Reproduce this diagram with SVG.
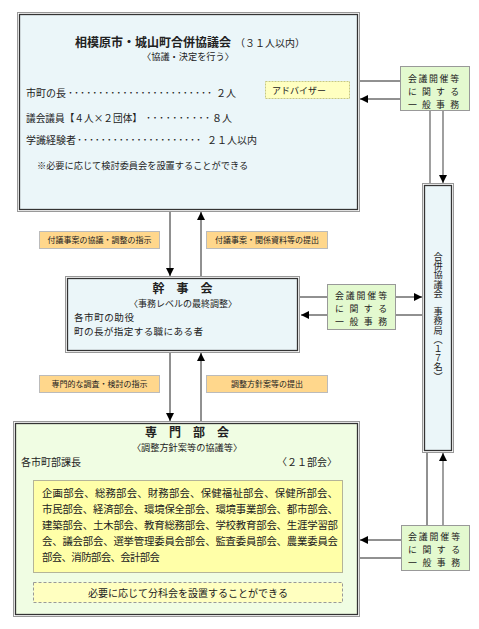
<svg xmlns="http://www.w3.org/2000/svg" width="479" height="629" viewBox="0 0 479 629">
<defs>
<marker id="ah" markerUnits="userSpaceOnUse" markerWidth="9" markerHeight="9" refX="8" refY="4" orient="auto">
<path d="M0,0 L8,4 L0,8 Z" fill="#000"/>
</marker>
<style>
text{font-family:"Noto Sans CJK JP","Noto Sans",sans-serif;fill:#222;}
.outer{fill:none;stroke:#999;stroke-width:1;}
.inner{stroke:#333;stroke-width:1.3;}
.blue{fill:#ebf6f9;}
.green{fill:#e3f9cf;stroke:#999;stroke-width:1;}
.orange{fill:#ffd78c;stroke:#bbb;stroke-width:1;}
.lbl{font-size:8px;text-anchor:middle;}
.gtx{font-size:8.9px;}
.body{font-size:10px;}
.ttl{font-size:12px;font-weight:bold;text-anchor:middle;}
.sub{font-size:9.2px;text-anchor:middle;}
.ln{stroke:#222;stroke-width:1;fill:none;}
.lg{stroke:#888;stroke-width:1.6;fill:none;}
.vt{font-size:9.2px;writing-mode:vertical-rl;}
</style>
</defs>

<g id="connectors">
<line class="ln" x1="170" y1="212" x2="170" y2="276" marker-end="url(#ah)"/>
<line class="ln" x1="201" y1="276" x2="201" y2="212" marker-end="url(#ah)"/>
<line class="ln" x1="170" y1="353" x2="170" y2="421" marker-end="url(#ah)"/>
<line class="ln" x1="201" y1="421" x2="201" y2="353" marker-end="url(#ah)"/>
<line class="ln" x1="360" y1="81" x2="400" y2="81"/>
<line class="ln" x1="400" y1="99" x2="360" y2="99" marker-end="url(#ah)"/>
<line class="lg" x1="430" y1="111" x2="430" y2="183"/>
<line class="lg" x1="443" y1="111" x2="443" y2="183" marker-end="url(#ah)"/>
<line class="ln" x1="300" y1="297" x2="328" y2="297"/>
<line class="ln" x1="395" y1="297" x2="422" y2="297" marker-end="url(#ah)"/>
<line class="ln" x1="422" y1="315" x2="395" y2="315"/>
<line class="ln" x1="328" y1="315" x2="301" y2="315" marker-end="url(#ah)"/>
<line class="ln" x1="427" y1="525" x2="427" y2="453"/>
<line class="lg" x1="443" y1="525" x2="443" y2="453" marker-end="url(#ah)"/>
<line class="ln" x1="401" y1="540" x2="360" y2="540" marker-end="url(#ah)"/>
<line class="ln" x1="360" y1="558" x2="401" y2="558"/>
</g>

<g id="council">
<rect x="17.5" y="12.5" width="342" height="199" class="outer"/>
<rect x="19.5" y="14.5" width="338" height="195" class="blue inner"/>
<text x="75" y="46.5" style="font-size:12px;font-weight:bold;">相模原市・城山町合併協議会</text>
<text x="235" y="46.5" style="font-size:10px;">（３１人以内）</text>
<text x="188" y="60" class="sub">〈協議・決定を行う〉</text>
<text x="26" y="97" class="body">市町の長</text>
<text x="68" y="97" class="body" textLength="144" lengthAdjust="spacing">････････････････････････</text>
<text x="216" y="97" class="body">２人</text>
<text x="26" y="121.5" class="body" textLength="116" lengthAdjust="spacingAndGlyphs">議会議員【４人×２団体】</text>
<text x="146" y="121.5" class="body" textLength="64" lengthAdjust="spacing">･･････････</text>
<text x="212" y="121.5" class="body">８人</text>
<text x="26" y="143.5" class="body">学識経験者</text>
<text x="77" y="143.5" class="body" textLength="124" lengthAdjust="spacing">･････････････････････</text>
<text x="207" y="143.5" class="body" textLength="50" lengthAdjust="spacing">２１人以内</text>
<text x="37" y="168.5" style="font-size:9.2px;">※必要に応じて検討委員会を設置することができる</text>
</g>

<g id="advisor">
<rect x="265.5" y="81.5" width="84" height="17" fill="#ffffc0" stroke="#c8c880" stroke-dasharray="2,1"/>
<text x="272" y="93.5" style="font-size:9px;">アドバイザー</text>
</g>

<g id="gen-top">
<rect x="400.5" y="66.5" width="69" height="44" class="green"/>
<text x="408" y="81.5" class="gtx" textLength="51" lengthAdjust="spacing">会議開催等</text>
<text x="408" y="94.5" class="gtx" textLength="51" lengthAdjust="spacing">に関する</text>
<text x="408" y="107.5" class="gtx" textLength="51" lengthAdjust="spacing">一般事務</text>
</g>

<g id="secretariat">
<rect x="422.5" y="183.5" width="31" height="269" class="outer"/>
<rect x="424.5" y="185.5" width="27" height="265" class="blue inner"/>
<text x="438" y="252" class="vt">合併協議会　事務局（１７名）</text>
</g>

<g id="label-1">
<rect x="39.5" y="231.5" width="120" height="17" class="orange"/>
<text x="99.5" y="243" class="lbl">付議事案の協議・調整の指示</text>
</g>
<g id="label-2">
<rect x="206.5" y="231.5" width="121" height="17" class="orange"/>
<text x="267" y="243" class="lbl">付議事案・関係資料等の提出</text>
</g>

<g id="kanjikai">
<rect x="65.5" y="276.5" width="234" height="76" class="outer"/>
<rect x="67.5" y="278.5" width="230" height="72" class="blue inner"/>
<text x="182.5" y="292.5" class="ttl">幹　事　会</text>
<text x="183" y="307" style="font-size:9px;text-anchor:middle;">〈事務レベルの最終調整〉</text>
<text x="74" y="320.8" style="font-size:9.6px;" textLength="60" lengthAdjust="spacing">各市町の助役</text>
<text x="74" y="334.8" style="font-size:9.6px;" textLength="129" lengthAdjust="spacing">町の長が指定する職にある者</text>
</g>

<g id="gen-mid">
<rect x="327.5" y="284.5" width="68" height="45" class="green"/>
<text x="335" y="298.5" class="gtx" textLength="52" lengthAdjust="spacing">会議開催等</text>
<text x="335" y="311.5" class="gtx" textLength="52" lengthAdjust="spacing">に関する</text>
<text x="335" y="324.5" class="gtx" textLength="52" lengthAdjust="spacing">一般事務</text>
</g>

<g id="label-3">
<rect x="39.5" y="375.5" width="120" height="17" class="orange"/>
<text x="99.5" y="387" class="lbl">専門的な調査・検討の指示</text>
</g>
<g id="label-4">
<rect x="206.5" y="375.5" width="121" height="17" class="orange"/>
<text x="267" y="387" class="lbl">調整方針案等の提出</text>
</g>

<g id="senmon">
<rect x="13.5" y="421.5" width="346" height="195" class="outer"/>
<rect x="15.5" y="423.5" width="342" height="191" fill="#f0fde3" stroke="#333" stroke-width="1.3"/>
<text x="187" y="436.5" class="ttl">専　門　部　会</text>
<text x="187" y="451" class="sub">〈調整方針案等の協議等〉</text>
<text x="21" y="465.5" class="body">各市町部課長</text>
<text x="337" y="465.5" class="body" style="text-anchor:end;">〈２１部会〉</text>
</g>

<g id="bukai-list">
<rect x="33.5" y="480.5" width="309" height="92" fill="#ffffa8" stroke="#b4b498"/>
<text x="42" y="497" style="font-size:10.4px;" textLength="296" lengthAdjust="spacing">企画部会、総務部会、財務部会、保健福祉部会、保健所部会、</text>
<text x="42" y="513" style="font-size:10.4px;" textLength="296" lengthAdjust="spacing">市民部会、経済部会、環境保全部会、環境事業部会、都市部会、</text>
<text x="42" y="529" style="font-size:10.4px;" textLength="296" lengthAdjust="spacing">建築部会、土木部会、教育総務部会、学校教育部会、生涯学習部</text>
<text x="42" y="545" style="font-size:10.4px;" textLength="296" lengthAdjust="spacing">会、議会部会、選挙管理委員会部会、監査委員部会、農業委員会</text>
<text x="42" y="561" style="font-size:10.4px;" textLength="118" lengthAdjust="spacing">部会、消防部会、会計部会</text>
</g>

<g id="subcommittee">
<rect x="33.5" y="582.5" width="309" height="20" fill="#ffffc0" stroke="#999" stroke-dasharray="3,2"/>
<text x="188" y="596.5" style="font-size:10px;text-anchor:middle;">必要に応じて分科会を設置することができる</text>
</g>

<g id="gen-bottom">
<rect x="401.5" y="525.5" width="68" height="45" class="green"/>
<text x="408" y="539.5" class="gtx" textLength="52" lengthAdjust="spacing">会議開催等</text>
<text x="408" y="552.5" class="gtx" textLength="52" lengthAdjust="spacing">に関する</text>
<text x="408" y="565.5" class="gtx" textLength="52" lengthAdjust="spacing">一般事務</text>
</g>
</svg>
